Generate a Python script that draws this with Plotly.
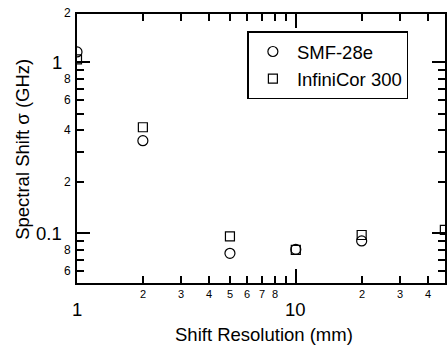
import numpy as np
import plotly.graph_objects as go

# ---- data ----
x_smf = [1, 2, 5, 10, 20]
y_smf = [1.15, 0.348, 0.0764, 0.0805, 0.0902]
x_inf = [1, 2, 5, 10, 20, 48]
y_inf = [1.04, 0.417, 0.096, 0.080, 0.0977, 0.1046]

x_major = [1, 10]
x_minor = [2, 3, 4, 5, 6, 7, 8, 9, 20, 30, 40]
x_minor_labels = [2, 3, 4, 5, 6, 7, 8, 20, 30, 40]
y_major = [0.1, 1]
y_minor = [0.06, 0.07, 0.08, 0.09, 0.2, 0.3, 0.4, 0.5, 0.6, 0.7, 0.8, 0.9]
y_minor_labels = [0.06, 0.08, 0.2, 0.4, 0.6, 0.8, 2]

FONT = "Liberation Sans, Arial, Helvetica, sans-serif"
Y_RANGE = [np.log10(0.0512), np.log10(1.917)]
X_RANGE = [0, np.log10(48.07)]

fig = go.Figure()
fig.add_trace(go.Scatter(
    x=x_smf, y=y_smf, mode="markers", name="SMF-28e",
    marker=dict(symbol="circle-open", size=10, color="black", line=dict(width=1.2, color="black"))))
fig.add_trace(go.Scatter(
    x=x_inf, y=y_inf, mode="markers", name="InfiniCor 300",
    marker=dict(symbol="square-open", size=9, color="black", line=dict(width=1.2, color="black"))))


def lbl(v):
    s = f"{v:g}".replace("0.0", "").replace("0.", "")
    return s[0]


def ypaper(v):
    return (np.log10(v) - Y_RANGE[0]) / (Y_RANGE[1] - Y_RANGE[0])


ann = []
for v in x_minor_labels:
    ann.append(dict(x=np.log10(v), y=0, xref="x", yref="paper", text=str(v)[0], showarrow=False,
                    xanchor="center", yanchor="middle", yshift=-11, font=dict(size=11)))
for v in x_major:
    ann.append(dict(x=np.log10(v), y=0, xref="x", yref="paper", text=str(v), showarrow=False,
                    xanchor="center", yanchor="middle", yshift=-26, font=dict(size=18.5)))
for v in y_minor_labels:
    ann.append(dict(x=0, y=ypaper(v), xref="paper", yref="paper", text=lbl(v), showarrow=False,
                    xanchor="right", yanchor="middle", xshift=-4, yshift=(-2 if v == 2 else 0),
                    font=dict(size=12)))
for v in y_major:
    ann.append(dict(x=0, y=ypaper(v), xref="paper", yref="paper", text=f"{v:g}", showarrow=False,
                    xanchor="right", yanchor="middle", xshift=-13, font=dict(size=18.5)))
ann.append(dict(x=0.509, y=0, xref="paper", yref="paper", text="Shift Resolution (mm)", showarrow=False,
                xanchor="center", yanchor="middle", yshift=-51, font=dict(size=18.5)))
ann.append(dict(x=0, y=0.495, xref="paper", yref="paper", text="Spectral Shift σ (GHz)", showarrow=False,
                xanchor="center", yanchor="middle", xshift=-54, textangle=-90, font=dict(size=18.5)))

fig.update_layout(
    width=447, height=346,
    margin=dict(l=77, r=0, t=14, b=63),
    paper_bgcolor="white", plot_bgcolor="white",
    font=dict(family=FONT, color="black", size=18),
    annotations=ann,
    legend=dict(x=0.463, y=0.935, xanchor="left", yanchor="top",
                bordercolor="black", borderwidth=1.5, bgcolor="white",
                font=dict(size=18.5), tracegroupgap=0, itemwidth=38),
    showlegend=True,
)
fig.update_xaxes(
    type="log", range=X_RANGE,
    showline=True, linewidth=2, linecolor="black", mirror="allticks",
    ticks="inside", ticklen=14, tickwidth=1.5, tickcolor="black",
    tickmode="array", tickvals=x_major, showticklabels=False, showgrid=False, zeroline=False,
    minor=dict(tickmode="array", tickvals=x_minor, ticks="inside", ticklen=7, tickwidth=1.5,
               tickcolor="black", showgrid=False),
)
fig.update_yaxes(
    type="log", range=Y_RANGE,
    showline=True, linewidth=2, linecolor="black", mirror="allticks",
    ticks="inside", ticklen=13, tickwidth=1.5, tickcolor="black",
    tickmode="array", tickvals=y_major, showticklabels=False, showgrid=False, zeroline=False,
    minor=dict(tickmode="array", tickvals=y_minor, ticks="inside", ticklen=7, tickwidth=1.5,
               tickcolor="black", showgrid=False),
)

fig.write_html("out.html", config={"displayModeBar": False},
               post_script="document.body.style.margin='0px';document.body.style.overflow='hidden';")
